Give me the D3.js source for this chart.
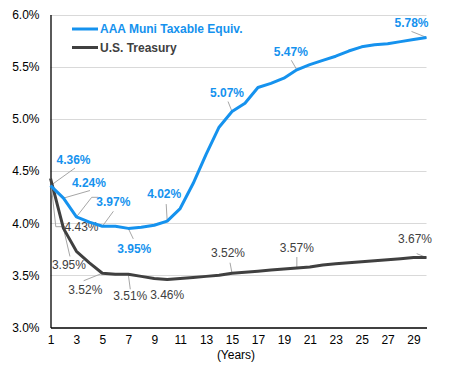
<!DOCTYPE html>
<html>
<head>
<meta charset="utf-8">
<script src="https://cdn.jsdelivr.net/npm/d3@7"></script>
<style>
  html, body { margin: 0; padding: 0; background: #fff; }
  svg { display: block; font-family: "Liberation Sans", Arial, sans-serif; }
</style>
</head>
<body>
<svg id="chart" width="451" height="368"></svg>
<script>
// ---- data ----
const years = d3.range(1, 31);
const muniValues = [4.36, 4.24, 4.06, 4.01, 3.97, 3.97, 3.95, 3.96, 3.98, 4.02,
                    4.14, 4.38, 4.66, 4.92, 5.07, 5.15, 5.30, 5.34, 5.39, 5.47,
                    5.52, 5.56, 5.60, 5.65, 5.69, 5.71, 5.72, 5.74, 5.76, 5.78];
const treasuryValues = [4.43, 3.95, 3.73, 3.62, 3.52, 3.51, 3.51, 3.49, 3.47, 3.46,
                        3.47, 3.48, 3.49, 3.50, 3.52, 3.53, 3.54, 3.55, 3.56, 3.57,
                        3.58, 3.60, 3.61, 3.62, 3.63, 3.64, 3.65, 3.66, 3.67, 3.67];
const seriesNames = ["AAA Muni Taxable Equiv.", "U.S. Treasury"];
const yTicks = [3.0, 3.5, 4.0, 4.5, 5.0, 5.5, 6.0];
const xTicks = [1, 3, 5, 7, 9, 11, 13, 15, 17, 19, 21, 23, 25, 27, 29];
const xTitle = "(Years)";
const muniLabelYears = [1, 2, 5, 7, 10, 15, 20, 30];
const treasuryLabelYears = [1, 2, 5, 7, 10, 15, 20, 30];

// ---- label layout (offset of label centre from point; leader anchor relative to label centre) ----
const muniLabelLayout = [
  {dx: 23, dy: -25.6, lead: [[1.5, 8]]},
  {dx: 25.5, dy: -15.6, lead: [[1, 8]]},
  {dx: 11, dy: -24, lead: [[0, 9]]},
  {dx: 6, dy: 20, lead: [[-1, -9.5]]},
  {dx: -3, dy: -27, lead: [[2, 10]]},
  {dx: -5, dy: -18.5, lead: [[1, 8.5]]},
  {dx: -6, dy: -18, lead: [[0.5, 8.5]]},
  {dx: -15, dy: -15, lead: [[0, 9]]}
];
const treasuryLabelLayout = [
  {dx: 31, dy: 48.4, lead: [[-25.7, 0], [-16.5, 0]]},
  {dx: 5.5, dy: 36.6, lead: [[1, -8.5]]},
  {dx: -17, dy: 17, lead: [[-1.7, -9.5]]},
  {dx: 2, dy: 22, lead: [[0, -7]]},
  {dx: 0, dy: 15.5, lead: []},
  {dx: -4, dy: -20, lead: [[2, 9.5]]},
  {dx: 0, dy: -20, lead: [[0, 9]]},
  {dx: -11.5, dy: -19, lead: [[1.7, 15]]}
];

const colors = ["#1592ee", "#404040"];
const svg = d3.select("#chart");

const x = d3.scaleLinear().domain([1, 30]).range([50.5, 426.5]);
const y = d3.scaleLinear().domain([3, 6]).range([327.5, 14.5]);

// gridlines
svg.append("g")
  .selectAll("line")
  .data(yTicks.filter(t => t > 3))
  .join("line")
  .attr("x1", x(1)).attr("x2", x(30))
  .attr("y1", d => Math.round(y(d)) + 0.5).attr("y2", d => Math.round(y(d)) + 0.5)
  .attr("stroke", "#d9d9d9").attr("stroke-width", 1);

// axes
const yAxis = svg.append("g")
  .attr("transform", `translate(${x(1)},0)`)
  .call(d3.axisLeft(y).tickValues(yTicks).tickFormat(d => d.toFixed(1) + "%").tickSize(0).tickPadding(11));
yAxis.select(".domain").attr("stroke", "#000").attr("stroke-width", 1.3);
yAxis.selectAll("text").attr("font-size", 12).attr("fill", "#000")
  .attr("font-family", "'Liberation Sans', Arial, sans-serif");

const xAxis = svg.append("g")
  .attr("transform", `translate(0,${y(3)})`)
  .call(d3.axisBottom(x).tickValues(xTicks).tickFormat(d3.format("d")).tickSize(0).tickPadding(8));
xAxis.select(".domain").attr("stroke", "#000").attr("stroke-width", 1.3);
xAxis.selectAll("text").attr("font-size", 12).attr("fill", "#000")
  .attr("font-family", "'Liberation Sans', Arial, sans-serif");

svg.append("text")
  .attr("x", 236).attr("y", 359)
  .attr("text-anchor", "middle")
  .attr("font-size", 12).attr("fill", "#000")
  .text(xTitle);

// lines
const allSeries = [muniValues, treasuryValues];
const line = d3.line().x((d, i) => x(years[i])).y(d => y(d));

// leader lines & labels
function drawLabels(values, labelYears, layout, color, weight) {
  const g = svg.append("g");
  labelYears.forEach((yr, k) => {
    const px = x(yr), py = y(values[yr - 1]);
    const L = layout[k];
    const cx = px + L.dx, cy = py + L.dy;
    if (L.lead.length) {
      const pts = [[px, py]].concat(L.lead.map(p => [cx + p[0], cy + p[1]]));
      g.append("path")
        .attr("d", d3.line()(pts))
        .attr("fill", "none").attr("stroke", "#a6a6a6").attr("stroke-width", 1);
    }
    g.append("text")
      .attr("x", cx).attr("y", cy).attr("dy", "0.35em")
      .attr("text-anchor", "middle")
      .attr("font-size", 12).attr("font-weight", weight)
      .attr("fill", color)
      .text(values[yr - 1].toFixed(2) + "%");
  });
}

// extra leader from muni year 3
svg.append("path")
  .attr("d", d3.line()([[x(3), y(muniValues[2])], [91.7, 197.3], [98.3, 197.3]]))
  .attr("fill", "none").attr("stroke", "#a6a6a6").attr("stroke-width", 1);

drawLabels(muniValues, muniLabelYears, muniLabelLayout, colors[0], "bold");
drawLabels(treasuryValues, treasuryLabelYears, treasuryLabelLayout, colors[1], "normal");

svg.append("g").selectAll("path")
  .data(allSeries.slice().reverse())
  .join("path")
  .attr("d", d => line(d))
  .attr("fill", "none")
  .attr("stroke", (d, i) => colors[1 - i])
  .attr("stroke-width", 3)
  .attr("stroke-linejoin", "round");

// legend
const legend = svg.append("g");
seriesNames.forEach((name, i) => {
  const ly = 29 + i * 18.5;
  legend.append("line")
    .attr("x1", 72).attr("x2", 98).attr("y1", ly).attr("y2", ly)
    .attr("stroke", colors[i]).attr("stroke-width", 3);
  legend.append("text")
    .attr("x", 100).attr("y", ly).attr("dy", "0.35em")
    .attr("font-size", 12).attr("font-weight", "bold")
    .attr("fill", colors[i])
    .text(name);
});
</script>
</body>
</html>
